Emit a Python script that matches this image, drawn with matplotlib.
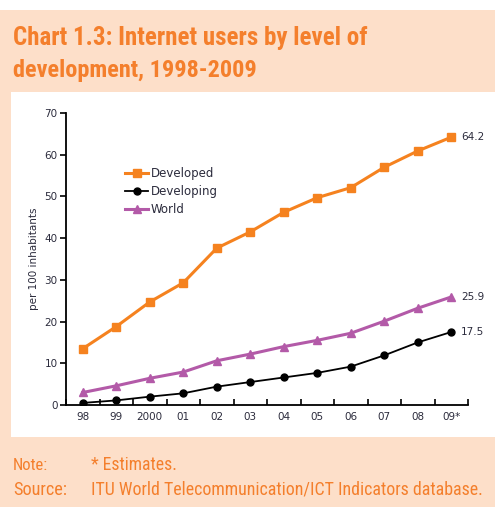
import matplotlib.pyplot as plt
import matplotlib.font_manager as fm
import numpy as np

years = ['98', '99', '2000', '01', '02', '03', '04', '05', '06', '07', '08', '09*']
developed = [13.5, 18.8, 24.7, 29.3, 37.6, 41.5, 46.2, 49.7, 52.1, 57.0, 60.9, 64.2]
developing = [0.5, 1.1, 2.0, 2.8, 4.4, 5.5, 6.6, 7.7, 9.2, 11.9, 15.0, 17.5]
world = [3.0, 4.6, 6.4, 7.9, 10.6, 12.2, 14.0, 15.5, 17.2, 20.1, 23.2, 25.9]

names = {f.name for f in fm.fontManager.ttflist}
narrow = 'Liberation Sans'
for cand in ('Liberation Sans Narrow', 'Roboto Condensed', 'DejaVu Sans Condensed'):
    if cand in names:
        narrow = cand
        break

peach = '#fddfc9'
orange_txt = '#f47f2c'
orange = '#f5821f'
purple = '#b35aa8'
tick_col = '#2b2b3c'

W, H = 495, 511
fig = plt.figure(figsize=(W / 100, H / 100), dpi=100)
fig.patch.set_facecolor('white')


def rect(x0, y0, x1, y1, color):
    fig.patches.append(plt.Rectangle((x0 / W, 1 - y1 / H), (x1 - x0) / W, (y1 - y0) / H,
                                     transform=fig.transFigure, facecolor=color,
                                     edgecolor='none', zorder=-10))


rect(0, 10, W, H - 4, peach)
rect(11, 92, W, 437, 'white')

renderer = fig.canvas.get_renderer()


def fit_text(x0, y, s, x1, size, **kw):
    # scale the font so the text ends near x1 (pixels), as in the original
    t = fig.text(x0 / W, 1 - y / H, s, color=orange_txt, fontsize=size, family=narrow,
                 va='center', **kw)
    w = t.get_window_extent(renderer).width
    t.set_fontsize(size * (x1 - x0) / w)
    return t


fit_text(13, 38, 'Chart 1.3: Internet users by level of', 368, 17, fontweight='bold')
fit_text(13, 70, 'development, 1998-2009', 257, 17, fontweight='bold')

fit_text(13, 465, 'Note:', 48, 12)
fit_text(91, 465, '* Estimates.', 176, 12)
fit_text(13, 490, 'Source:', 67, 12)
fit_text(91, 490, 'ITU World Telecommunication/ICT Indicators database.', 483, 12)

ax = fig.add_axes([66 / W, 1 - 405 / H, (468 - 66) / W, (405 - 113) / H])
ax.set_facecolor('none')
x = np.arange(len(years))

ax.plot(x, developed, color=orange, lw=2.2, marker='s', ms=6, label='Developed')
ax.plot(x, developing, color='black', lw=1.3, marker='o', ms=5, label='Developing')
ax.plot(x, world, color=purple, lw=2.2, marker='^', ms=6, label='World')

for vals in (developed, world, developing):
    ax.text(x[-1] + 0.3, vals[-1], f'{vals[-1]:.1f}', fontsize=7.5, color=tick_col, va='center')

ax.set_xlim(-0.5, len(years) - 0.5)
ax.set_ylim(0, 70)
ax.set_yticks(range(0, 71, 10))
ax.set_xticks(x)
ax.set_xticklabels(years)
ax.set_xticks(np.arange(-0.5, len(years), 1), minor=True)
ax.tick_params(axis='x', which='major', length=0, labelsize=7.5, labelcolor=tick_col, pad=5)
ax.tick_params(axis='x', which='minor', length=4, width=1.2, direction='in', color='black')
ax.tick_params(axis='y', length=4, width=1.2, direction='out', labelsize=7.5, labelcolor=tick_col, pad=2)
for s in ('top', 'right'):
    ax.spines[s].set_visible(False)
for s in ('left', 'bottom'):
    ax.spines[s].set_linewidth(1.3)
ax.set_ylabel('per 100 inhabitants', fontsize=7.5, color=tick_col, labelpad=4)

leg = ax.legend(loc='upper left', bbox_to_anchor=(0.12, 0.85), frameon=False, fontsize=8.5,
                handlelength=2.0, handletextpad=0.2, labelspacing=0.4, labelcolor=tick_col)

fig.savefig('out.png', dpi=100, facecolor='white')
